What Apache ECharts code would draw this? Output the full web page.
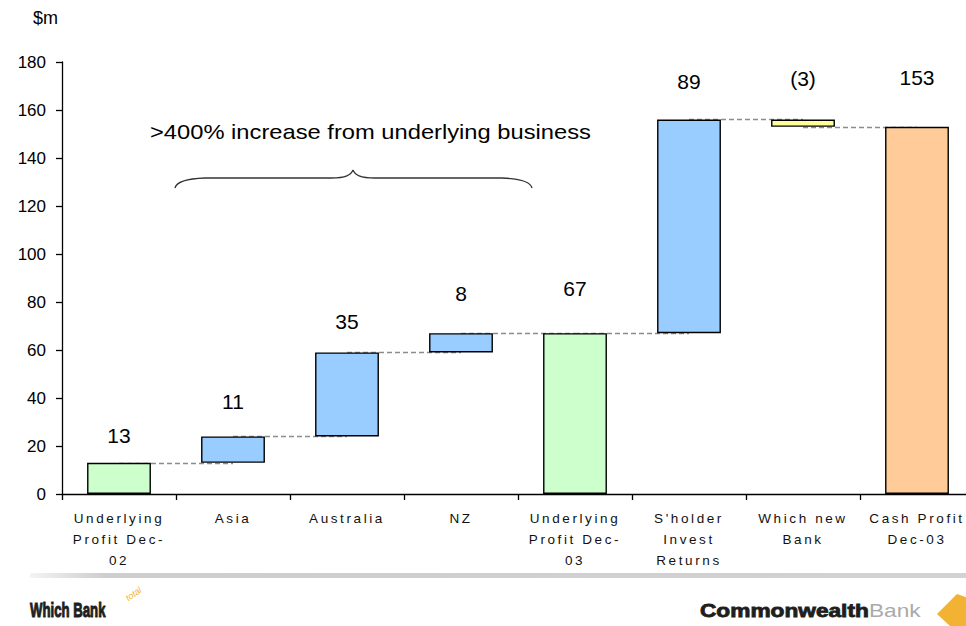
<!DOCTYPE html>
<html>
<head>
<meta charset="utf-8">
<script src="https://cdn.jsdelivr.net/npm/echarts@6/dist/echarts.min.js"></script>
<style>
  html, body { margin: 0; padding: 0; background: #fff; }
  #chart { width: 966px; height: 626px; }
  /* spaced-out category captions */
  #chart text[style*="13.5px"] { letter-spacing: 2.6px; }
</style>
</head>
<body>
<div id="chart"></div>
<script>
// Profit bridge, $m
const categories = [
  'Underlying\nProfit Dec-\n02', 'Asia', 'Australia', 'NZ',
  'Underlying\nProfit Dec-\n03', "S'holder\nInvest\nReturns", 'Which new\nBank', 'Cash Profit\nDec-03'
];
const steps = [13, 11, 35, 8, 67, 89, -3, 153];
const kinds = ['total', 'delta', 'delta', 'delta', 'total', 'delta', 'delta', 'total'];
const yTicks = [0, 20, 40, 60, 80, 100, 120, 140, 160, 180];

// presentation
const fills = ['#CCFFCC', '#99CCFF', '#99CCFF', '#99CCFF', '#CCFFCC', '#99CCFF', '#FFFF99', '#FFCC99'];
const labelGaps = [17, 24, 20, 29, 34, 28, 31, 39];

// floating base + visible height for each step, plus running totals
const bases = [], heights = [], running = [];
let total = 0;
steps.forEach((v, i) => {
  if (kinds[i] === 'total') {
    bases.push(0); heights.push(v); total = v;
  } else {
    bases.push(Math.min(total, total + v)); heights.push(Math.abs(v)); total += v;
  }
  running.push(total);
});

// dashed connectors between neighbouring bars at the running total
const connectors = [];
for (let i = 0; i < categories.length - 1; i++) {
  connectors.push([{ coord: [categories[i], running[i]] }, { coord: [categories[i + 1], running[i]] }]);
}

const chart = echarts.init(document.getElementById('chart'), null, { renderer: 'svg' });
const font = 'Arial, "Liberation Sans", sans-serif';
const braceStyle = { fill: 'none', stroke: '#333', lineWidth: 1.3 };

chart.setOption({
  animation: false,
  backgroundColor: '#fff',
  textStyle: { fontFamily: font },
  grid: { left: 62, width: 912, top: 62, bottom: 132, outerBoundsMode: 'none', containLabel: false },
  xAxis: {
    type: 'category',
    data: categories,
    boundaryGap: true,
    axisLine: { lineStyle: { color: '#000', width: 1.3 } },
    axisTick: { show: true, alignWithLabel: false, length: 6, lineStyle: { color: '#000', width: 1.3 } },
    axisLabel: {
      interval: 0, color: '#111', fontSize: 13.5, lineHeight: 21, margin: 14, fontFamily: font
    }
  },
  yAxis: {
    type: 'value',
    min: yTicks[0], max: yTicks[yTicks.length - 1], interval: yTicks[1] - yTicks[0],
    splitLine: { show: false },
    axisLine: { show: true, lineStyle: { color: '#000', width: 1.3 } },
    axisTick: { show: true, length: 6, lineStyle: { color: '#000', width: 1.3 } },
    axisLabel: { color: '#000', fontSize: 17, margin: 16, fontFamily: font }
  },
  series: [
    {
      type: 'bar',
      stack: 'bridge',
      data: bases,
      barWidth: '56%',
      itemStyle: { color: 'transparent', borderColor: 'transparent' },
      silent: true,
      z: 1,
      markLine: {
        z: 1,
        silent: true,
        symbol: 'none',
        label: { show: false },
        lineStyle: { type: [5, 3], color: '#8c8c8c', width: 1.3 },
        data: connectors
      }
    },
    {
      type: 'bar',
      stack: 'bridge',
      barWidth: '56%',
      z: 3,
      data: heights.map((h, i) => ({
        value: h,
        itemStyle: { color: fills[i], borderColor: '#000', borderWidth: 1.4 },
        label: { distance: labelGaps[i] }
      })),
      label: {
        show: true,
        position: 'top',
        color: '#000',
        fontSize: 21,
        fontFamily: font,
        formatter: p => {
          const v = steps[p.dataIndex];
          return v < 0 ? '(' + Math.abs(v) + ')' : String(v);
        }
      }
    }
  ],
  graphic: [
    { type: 'text', left: 33, top: 9, style: { text: '$m', fontSize: 18, fill: '#000', fontFamily: font } },
    {
      type: 'text', x: 150, y: 121, scaleX: 1.13,
      style: { text: '>400% increase from underlying business', fontSize: 21, fill: '#000', fontFamily: font }
    },
    // curly brace under the annotation
    { type: 'bezierCurve', silent: true, shape: { x1: 175, y1: 188, cpx1: 177, cpy1: 179, x2: 205, y2: 178 }, style: braceStyle },
    { type: 'line', silent: true, shape: { x1: 205, y1: 178, x2: 331, y2: 178 }, style: braceStyle },
    { type: 'bezierCurve', silent: true, shape: { x1: 331, y1: 178, cpx1: 346, cpy1: 178, cpx2: 351, cpy2: 175, x2: 353, y2: 170 }, style: braceStyle },
    { type: 'bezierCurve', silent: true, shape: { x1: 353, y1: 170, cpx1: 355, cpy1: 175, cpx2: 360, cpy2: 178, x2: 375, y2: 178 }, style: braceStyle },
    { type: 'line', silent: true, shape: { x1: 375, y1: 178, x2: 502, y2: 178 }, style: braceStyle },
    { type: 'bezierCurve', silent: true, shape: { x1: 502, y1: 178, cpx1: 530, cpy1: 179, x2: 532, y2: 188 }, style: braceStyle },
    {
      type: 'rect', silent: true,
      shape: { x: 30, y: 573, width: 936, height: 5 },
      style: {
        fill: {
          type: 'linear', x: 0, y: 0, x2: 1, y2: 0,
          colorStops: [
            { offset: 0, color: 'rgba(200,200,200,0.2)' },
            { offset: 0.08, color: 'rgba(200,200,200,0.9)' },
            { offset: 1, color: 'rgba(205,205,205,0.9)' }
          ]
        }
      }
    },
    {
      type: 'text', x: 30, y: 600, scaleX: 0.66,
      style: {
        text: 'Which Bank', fontSize: 20, fontWeight: 'bold', fill: '#1e1e1e',
        stroke: '#1e1e1e', lineWidth: 1, fontFamily: font
      }
    },
    {
      type: 'text', x: 124, y: 595, rotation: 0.6,
      style: { text: 'total', fontSize: 9, fontStyle: 'italic', fill: '#f0b429', fontFamily: font }
    },
    {
      type: 'text', x: 700, y: 601, scaleX: 1.26,
      style: {
        text: 'Commonwealth', fontSize: 18, fontWeight: 'bold', fill: '#1e1e1e',
        stroke: '#1e1e1e', lineWidth: 0.8, fontFamily: font
      }
    },
    {
      type: 'text', x: 869, y: 601, scaleX: 1.26,
      style: { text: 'Bank', fontSize: 18, fill: '#aaa', fontFamily: font }
    },
    {
      type: 'polygon', silent: true,
      shape: { points: [[937, 614], [957, 594], [968, 598], [966, 626], [950, 626]] },
      style: { fill: '#f2b233' }
    }
  ]
});
</script>
</body>
</html>
